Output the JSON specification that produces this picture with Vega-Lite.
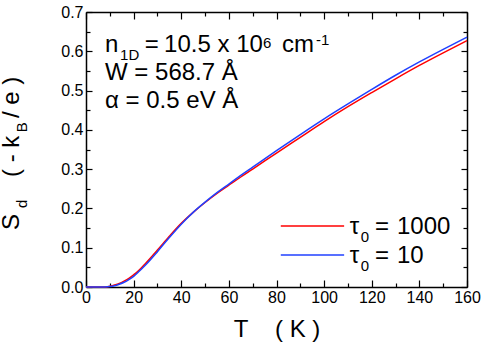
{
  "$schema": "https://vega.github.io/schema/vega-lite/v6.json",
  "autosize": "none",
  "width": 381,
  "height": 275,
  "padding": {"left": 86, "top": 12, "right": 18, "bottom": 59},
  "background": "white",
  "config": {
    "view": {"stroke": null},
    "font": "Liberation Sans",
    "axis": {"grid": false, "domainColor": "black", "domainWidth": 1.5, "tickColor": "black", "tickWidth": 1.2, "labelColor": "black", "labelFont": "Liberation Sans", "labelFontSize": 16, "titleFont": "Liberation Sans", "titleColor": "black", "titleFontWeight": "normal"}
  },
  "datasets": {
    "curves": [
      {"T": 0, "S": 0, "s": "τ0 = 1000"}, {"T": 5, "S": 0, "s": "τ0 = 1000"}, {"T": 8, "S": 0, "s": "τ0 = 1000"}, {"T": 10, "S": 0.002, "s": "τ0 = 1000"}, {"T": 12, "S": 0.005, "s": "τ0 = 1000"}, {"T": 14, "S": 0.009, "s": "τ0 = 1000"}, {"T": 16, "S": 0.015, "s": "τ0 = 1000"}, {"T": 18, "S": 0.022, "s": "τ0 = 1000"}, {"T": 20, "S": 0.031, "s": "τ0 = 1000"}, {"T": 22, "S": 0.041, "s": "τ0 = 1000"}, {"T": 25, "S": 0.060, "s": "τ0 = 1000"}, {"T": 30, "S": 0.094, "s": "τ0 = 1000"}, {"T": 35, "S": 0.129, "s": "τ0 = 1000"}, {"T": 40, "S": 0.162, "s": "τ0 = 1000"}, {"T": 45, "S": 0.190, "s": "τ0 = 1000"}, {"T": 50, "S": 0.215, "s": "τ0 = 1000"}, {"T": 55, "S": 0.238, "s": "τ0 = 1000"}, {"T": 60, "S": 0.259, "s": "τ0 = 1000"}, {"T": 65, "S": 0.280, "s": "τ0 = 1000"}, {"T": 70, "S": 0.300, "s": "τ0 = 1000"}, {"T": 80, "S": 0.341, "s": "τ0 = 1000"}, {"T": 90, "S": 0.381, "s": "τ0 = 1000"}, {"T": 100, "S": 0.421, "s": "τ0 = 1000"}, {"T": 110, "S": 0.459, "s": "τ0 = 1000"}, {"T": 120, "S": 0.495, "s": "τ0 = 1000"}, {"T": 130, "S": 0.530, "s": "τ0 = 1000"}, {"T": 140, "S": 0.564, "s": "τ0 = 1000"}, {"T": 150, "S": 0.596, "s": "τ0 = 1000"}, {"T": 160, "S": 0.627, "s": "τ0 = 1000"},
      {"T": 0, "S": 0, "s": "τ0 = 10"}, {"T": 5, "S": 0, "s": "τ0 = 10"}, {"T": 8, "S": 0, "s": "τ0 = 10"}, {"T": 10, "S": 0.001, "s": "τ0 = 10"}, {"T": 12, "S": 0.003, "s": "τ0 = 10"}, {"T": 14, "S": 0.007, "s": "τ0 = 10"}, {"T": 16, "S": 0.012, "s": "τ0 = 10"}, {"T": 18, "S": 0.019, "s": "τ0 = 10"}, {"T": 20, "S": 0.027, "s": "τ0 = 10"}, {"T": 22, "S": 0.038, "s": "τ0 = 10"}, {"T": 25, "S": 0.056, "s": "τ0 = 10"}, {"T": 30, "S": 0.090, "s": "τ0 = 10"}, {"T": 35, "S": 0.126, "s": "τ0 = 10"}, {"T": 40, "S": 0.160, "s": "τ0 = 10"}, {"T": 45, "S": 0.190, "s": "τ0 = 10"}, {"T": 50, "S": 0.216, "s": "τ0 = 10"}, {"T": 55, "S": 0.240, "s": "τ0 = 10"}, {"T": 60, "S": 0.262, "s": "τ0 = 10"}, {"T": 65, "S": 0.284, "s": "τ0 = 10"}, {"T": 70, "S": 0.305, "s": "τ0 = 10"}, {"T": 80, "S": 0.347, "s": "τ0 = 10"}, {"T": 90, "S": 0.388, "s": "τ0 = 10"}, {"T": 100, "S": 0.428, "s": "τ0 = 10"}, {"T": 110, "S": 0.466, "s": "τ0 = 10"}, {"T": 120, "S": 0.503, "s": "τ0 = 10"}, {"T": 130, "S": 0.539, "s": "τ0 = 10"}, {"T": 140, "S": 0.573, "s": "τ0 = 10"}, {"T": 150, "S": 0.605, "s": "τ0 = 10"}, {"T": 160, "S": 0.636, "s": "τ0 = 10"}
    ],
    "bigText": [
      {"t": "n", "x": 8, "y": 0.597},
      {"t": "=", "x": 24.7, "y": 0.597},
      {"t": "10.5 x 10", "x": 32.8, "y": 0.597},
      {"t": "cm", "x": 82.3, "y": 0.597},
      {"t": "W = 568.7 Å", "x": 8, "y": 0.527},
      {"t": "α = 0.5 eV Å", "x": 8, "y": 0.456},
      {"t": "τ", "x": 110.8, "y": 0.135},
      {"t": "=", "x": 121.4, "y": 0.135},
      {"t": "1000", "x": 130.6, "y": 0.135},
      {"t": "τ", "x": 110.8, "y": 0.0618},
      {"t": "=", "x": 121.4, "y": 0.0618},
      {"t": "10", "x": 130.6, "y": 0.0618}
    ],
    "smallText": [
      {"t": "1D", "x": 14.3, "y": 0.578},
      {"t": "6", "x": 74.3, "y": 0.609},
      {"t": "-1", "x": 96.6, "y": 0.616},
      {"t": "0", "x": 115.4, "y": 0.115},
      {"t": "0", "x": 115.4, "y": 0.042}
    ],
    "yTitleBig": [
      {"t": "S", "x": -28.3, "y": 0.145},
      {"t": "( - k", "x": -28.3, "y": 0.28},
      {"t": "/ e )", "x": -28.3, "y": 0.43}
    ],
    "yTitleSmall": [
      {"t": "d", "x": -24.6, "y": 0.201},
      {"t": "B", "x": -24.6, "y": 0.394}
    ],
    "legendLines": [
      {"s": "τ0 = 1000", "x1": 81.8, "x2": 108.4, "y": 0.155},
      {"s": "τ0 = 10", "x1": 81.8, "x2": 108.4, "y": 0.0814}
    ]
  },
  "resolve": {"axis": {"x": "independent", "y": "independent"}},
  "layer": [
    {
      "data": {"name": "curves"},
      "mark": {"type": "line", "strokeWidth": 1.5, "interpolate": "monotone"},
      "encoding": {
        "x": {"field": "T", "type": "quantitative", "scale": {"domain": [0, 160], "nice": false},
          "axis": {"orient": "bottom", "values": [0,10,20,30,40,50,60,70,80,90,100,110,120,130,140,150,160],
            "labelExpr": "datum.value % 20 === 0 ? datum.label : ''",
            "tickSize": {"condition": {"test": "datum.value % 20 === 0", "value": -7}, "value": -4},
            "labelPadding": 9, "labelFlush": false, "title": "T\u00a0\u00a0\u00a0\u00a0(\u00a0K\u00a0)", "titleFontSize": 24, "titlePadding": 12}},
        "y": {"field": "S", "type": "quantitative", "scale": {"domain": [0, 0.7], "nice": false},
          "axis": {"orient": "left", "values": [0,0.05,0.1,0.15,0.2,0.25,0.3,0.35,0.4,0.45,0.5,0.55,0.6,0.65,0.7],
            "labelExpr": "round(datum.value*20) % 2 === 0 ? format(datum.value, '.1f') : ''",
            "tickSize": {"condition": {"test": "round(datum.value*20) % 2 === 0", "value": -6}, "value": -4},
            "labelPadding": 9, "labelFlush": false, "title": null}},
        "color": {"field": "s", "type": "nominal", "scale": {"domain": ["τ0 = 1000", "τ0 = 10"], "range": ["#ff0000", "#2040ff"]}, "legend": null},
        "order": {"field": "s", "sort": "descending"}
      }
    },
    {
      "data": {"name": "bigText"},
      "mark": {"type": "text", "fontSize": 24, "align": "left", "baseline": "alphabetic", "color": "black", "font": "Liberation Sans"},
      "encoding": {
        "x": {"field": "x", "type": "quantitative",
          "axis": {"orient": "top", "values": [0,10,20,30,40,50,60,70,80,90,100,110,120,130,140,150,160], "labels": false,
            "tickSize": {"condition": {"test": "datum.value % 20 === 0", "value": -7}, "value": -4}, "title": null}},
        "y": {"field": "y", "type": "quantitative",
          "axis": {"orient": "right", "values": [0,0.05,0.1,0.15,0.2,0.25,0.3,0.35,0.4,0.45,0.5,0.55,0.6,0.65,0.7], "labels": false,
            "tickSize": {"condition": {"test": "round(datum.value*20) % 2 === 0", "value": -6}, "value": -4}, "title": null}},
        "text": {"field": "t"}
      }
    },
    {
      "data": {"name": "smallText"},
      "mark": {"type": "text", "fontSize": 15, "align": "left", "baseline": "alphabetic", "color": "black", "font": "Liberation Sans"},
      "encoding": {
        "x": {"field": "x", "type": "quantitative", "axis": null},
        "y": {"field": "y", "type": "quantitative", "axis": null},
        "text": {"field": "t"}
      }
    },
    {
      "data": {"name": "yTitleBig"},
      "mark": {"type": "text", "fontSize": 24, "align": "left", "baseline": "alphabetic", "angle": 270, "color": "black", "font": "Liberation Sans"},
      "encoding": {
        "x": {"field": "x", "type": "quantitative", "axis": null},
        "y": {"field": "y", "type": "quantitative", "axis": null},
        "text": {"field": "t"}
      }
    },
    {
      "data": {"name": "yTitleSmall"},
      "mark": {"type": "text", "fontSize": 15, "align": "left", "baseline": "alphabetic", "angle": 270, "color": "black", "font": "Liberation Sans"},
      "encoding": {
        "x": {"field": "x", "type": "quantitative", "axis": null},
        "y": {"field": "y", "type": "quantitative", "axis": null},
        "text": {"field": "t"}
      }
    },
    {
      "data": {"name": "legendLines"},
      "mark": {"type": "rule", "strokeWidth": 1.5},
      "encoding": {
        "x": {"field": "x1", "type": "quantitative", "axis": null},
        "x2": {"field": "x2"},
        "y": {"field": "y", "type": "quantitative", "axis": null},
        "color": {"field": "s", "type": "nominal", "legend": null}
      }
    }
  ]
}
